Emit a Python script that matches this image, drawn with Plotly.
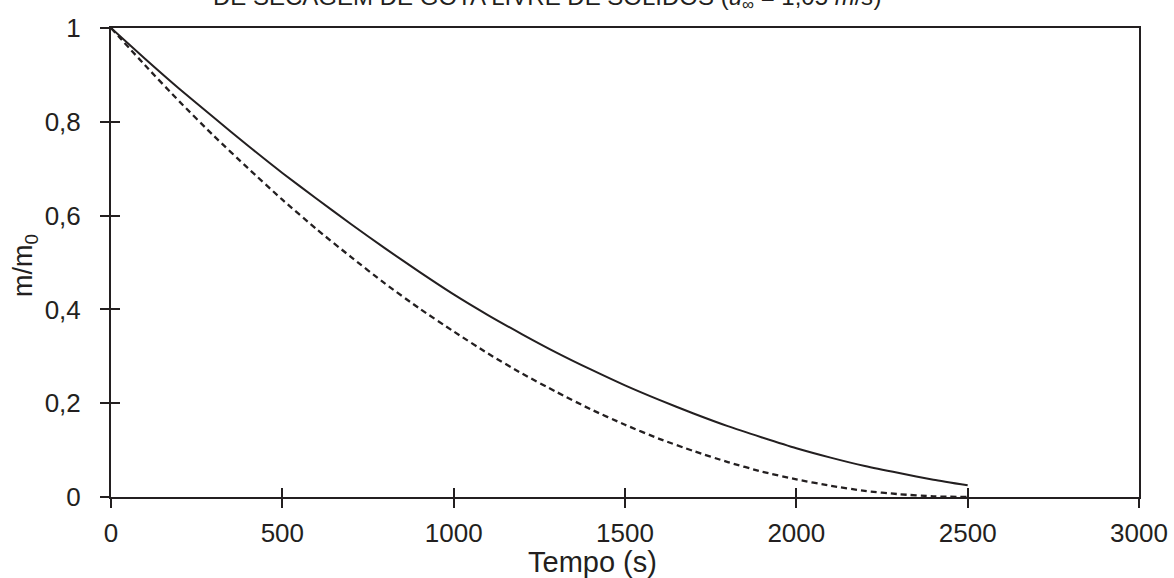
import plotly.graph_objects as go

tempo = [0, 100, 200, 300, 400, 500, 600, 700, 800, 900, 1000, 1100, 1200,
         1300, 1400, 1500, 1600, 1700, 1800, 1900, 2000, 2100, 2200, 2300, 2400, 2500]
massa_continua = [1.0, 0.934, 0.870, 0.809, 0.749, 0.691, 0.636, 0.582, 0.530, 0.480,
                  0.432, 0.388, 0.347, 0.308, 0.272, 0.238, 0.207, 0.178, 0.151, 0.127,
                  0.104, 0.084, 0.066, 0.051, 0.037, 0.025]
massa_tracejada = [1.0, 0.920, 0.843, 0.770, 0.701, 0.634, 0.571, 0.512, 0.455, 0.402,
                   0.353, 0.306, 0.263, 0.224, 0.187, 0.154, 0.124, 0.098, 0.0745, 0.054,
                   0.0375, 0.024, 0.013, 0.006, 0.0014, 0.0]

x_ticks = [0, 500, 1000, 1500, 2000, 2500, 3000]
y_ticks = [0, 0.2, 0.4, 0.6, 0.8, 1]
y_tick_labels = ["0", "0,2", "0,4", "0,6", "0,8", "1"]

INK = "#231f20"
FONT = "Liberation Sans, Arial, sans-serif"

fig = go.Figure()
fig.add_trace(go.Scatter(x=tempo, y=massa_continua, mode="lines",
                         line=dict(color=INK, width=2, shape="spline", smoothing=0.6),
                         showlegend=False, hoverinfo="skip"))
fig.add_trace(go.Scatter(x=tempo, y=massa_tracejada, mode="lines",
                         line=dict(color=INK, width=2.3, dash="6px,4px", shape="spline",
                                   smoothing=0.6),
                         showlegend=False, hoverinfo="skip"))
# ghost trace for the inside-tick overlay axes
fig.add_trace(go.Scatter(x=tempo, y=massa_continua, mode="lines", xaxis="x2", yaxis="y2",
                         line=dict(color="rgba(0,0,0,0)", width=0), showlegend=False,
                         hoverinfo="skip"))

fig.update_layout(
    width=1174, height=578,
    margin=dict(l=111, r=35, t=28, b=81, autoexpand=False),
    paper_bgcolor="white", plot_bgcolor="white",
    font=dict(family=FONT, color=INK, size=26),
    xaxis=dict(range=[0, 3000], tickvals=x_ticks, ticktext=[str(v) for v in x_ticks],
               ticks="outside", ticklen=9, tickwidth=1.5, tickcolor=INK,
               showline=True, linecolor=INK, linewidth=2, mirror=True,
               showgrid=False, zeroline=False, automargin=False,
               tickfont=dict(size=26), ticklabelstandoff=3),
    yaxis=dict(range=[0, 1], tickvals=y_ticks, ticktext=y_tick_labels,
               ticks="outside", ticklen=9, tickwidth=1.5, tickcolor=INK,
               showline=True, linecolor=INK, linewidth=2, mirror=True,
               showgrid=False, zeroline=False, automargin=False,
               tickfont=dict(size=26), ticklabelstandoff=14),
    xaxis2=dict(range=[0, 3000], tickvals=x_ticks, overlaying="x", side="bottom",
                ticks="inside", ticklen=9, tickwidth=1.5, tickcolor=INK, automargin=False,
                showticklabels=False, showline=False, showgrid=False, zeroline=False),
    yaxis2=dict(range=[0, 1], tickvals=y_ticks, overlaying="y", side="left",
                ticks="inside", ticklen=9, tickwidth=1.5, tickcolor=INK, automargin=False,
                showticklabels=False, showline=False, showgrid=False, zeroline=False),
)

# axis titles
fig.add_annotation(text="Tempo (s)", xref="paper", yref="paper",
                   x=(592 - 111) / 1028, y=(497 - 562) / 469, xanchor="center", yanchor="middle",
                   showarrow=False, font=dict(family=FONT, size=29, color=INK))
fig.add_annotation(text="m/m<sub>0</sub>", xref="paper", yref="paper", textangle=-90,
                   x=(25 - 111) / 1028, y=(497 - 266) / 469, xanchor="center", yanchor="middle",
                   showarrow=False, font=dict(family=FONT, size=27, color=INK))

fig.add_annotation(
    text="DE SECAGEM DE GOTA LIVRE DE SÓLIDOS (<i>u</i><sub>∞</sub> = 1,05 <i>m</i>/<i>s</i>)",
    xref="paper", yref="paper", x=(547 - 111) / 1028, y=1.025, xanchor="center", yanchor="bottom",
    showarrow=False, font=dict(family=FONT, size=24, color=INK))

fig.write_html("out.html")
